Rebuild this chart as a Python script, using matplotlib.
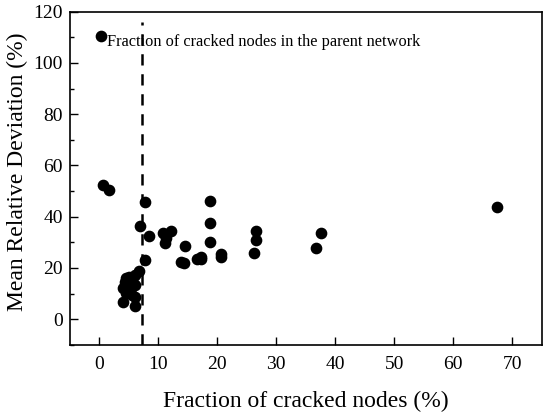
import numpy as np
import matplotlib
matplotlib.use("Agg")
import matplotlib.pyplot as plt
from matplotlib.ticker import MultipleLocator

plt.rcParams['font.family'] = ['Liberation Serif', 'DejaVu Serif']

# fraction of cracked nodes (%) and mean relative deviation (%)
frac = [0.3, 0.7, 1.6, 7.8, 6.9, 8.4, 10.8, 11.3, 11.1, 12.2, 14.6, 13.9, 14.3,
        16.5, 17.3, 17.3, 18.8, 18.8, 18.8, 20.7, 20.7, 26.6, 26.6, 26.2,
        37.6, 36.8, 67.4, 7.8,
        6.8, 6.0, 5.1, 4.5, 4.3, 5.5, 4.0, 6.0, 5.0, 4.5, 5.5, 4.0, 6.0, 6.1, 5.2]
mrd = [110.5, 52.4, 50.3, 45.6, 36.5, 32.4, 33.5, 31.6, 29.7, 34.3, 28.7, 22.5, 21.8,
       23.6, 24.4, 23.4, 46.1, 37.4, 30.3, 25.3, 24.4, 34.3, 30.8, 26.0,
       33.6, 27.7, 43.9, 23.1,
       18.8, 17.3, 16.6, 16.0, 14.7, 15.5, 12.1, 13.4, 12.5, 10.1, 9.5, 6.9, 8.8, 5.3, 14.0]
parent_frac = 7.3

fig = plt.figure(figsize=(5.5, 4.16), dpi=100)
ax = fig.add_axes([0.127, 0.171, 0.858, 0.801])

ax.plot(frac, mrd, 'o', color='black', markersize=7.4, linestyle='none')
ax.plot([parent_frac, parent_frac], [-10, 116], color='black', linewidth=1.8,
        dashes=(4.5, 3.5))
ax.text(1.3, 108, "Fraction of cracked nodes in the parent network",
        fontsize=11.8, va='center', ha='left')

ax.set_xlim(-5, 75)
ax.set_ylim(-10, 120)
ax.xaxis.set_major_locator(MultipleLocator(10))
ax.yaxis.set_major_locator(MultipleLocator(20))
ax.yaxis.set_minor_locator(MultipleLocator(10))
ax.tick_params(which='both', direction='in', top=False, right=False,
               labelsize=14, width=1)
ax.tick_params(which='major', length=6)
ax.tick_params(which='minor', length=3)
ax.tick_params(axis='x', pad=8)
ax.tick_params(axis='y', pad=5)
for s in ax.spines.values():
    s.set_linewidth(1.2)

ax.set_xlabel("Fraction of cracked nodes (%)", fontsize=17, labelpad=13)
ax.set_ylabel("Mean Relative Deviation (%)", fontsize=17)
ax.yaxis.set_label_coords(-0.088, 0.52)

fig.savefig("out.png", dpi=100)
